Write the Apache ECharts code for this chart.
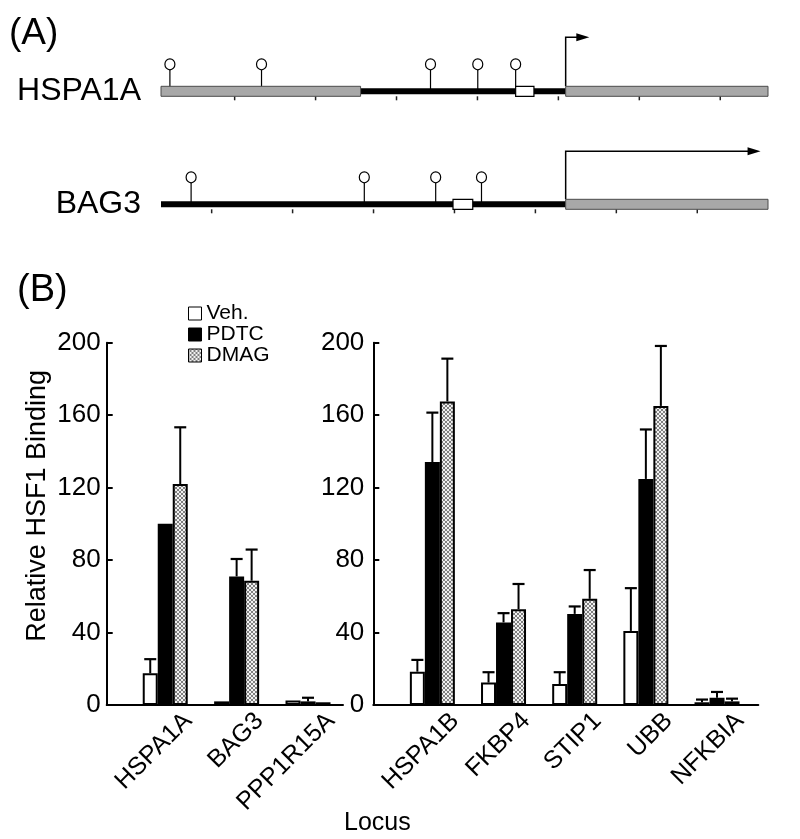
<!DOCTYPE html>
<html>
<head>
<meta charset="utf-8">
<script src="https://cdn.jsdelivr.net/npm/echarts@6/dist/echarts.min.js"></script>
<style>
html,body{margin:0;padding:0;background:#fff;}
#chart{width:800px;height:839px;}
</style>
</head>
<body>
<div id="chart"></div>
<script>
// ---------- Panel A data (positions in bp relative to TSS) ----------
const genes = ['HSPA1A', 'BAG3'];
const hspa1aGray = [[-2500, -1267], [0, 1250]];
const hspa1aLine = [[-1267, 0]];
const hspa1aSites = [-2445, -1879, -835, -543, -309];
const hspa1aBox = [-309, -196];
const hspa1aTicks = [-2045, -1545, -1045, -545, -45, 455, 955];
const hspa1aArrowEnd = 146;

const bag3Gray = [[0, 1250]];
const bag3Line = [[-2500, 0]];
const bag3Sites = [-2314, -1244, -803, -520];
const bag3Box = [-696, -574];
const bag3Ticks = [-2187, -1687, -1187, -687, -187, 313, 813];
const bag3ArrowEnd = 1204;

// ---------- Panel B data ----------
const seriesNames = ['Veh.', 'PDTC', 'DMAG'];
const leftLoci = ['HSPA1A', 'BAG3', 'PPP1R15A'];
const leftVeh = [17.5, 2, 2.5];
const leftPdtc = [100, 71, 2];
const leftDmag = [122, 68.6, 1.5];
const leftVehErr = [7.8, 0, 0];
const leftPdtcErr = [0, 9.6, 2];
const leftDmagErr = [31.3, 17.2, 0];

const rightLoci = ['HSPA1B', 'FKBP4', 'STIP1', 'UBB', 'NFKBIA'];
const rightVeh = [18.4, 12.4, 11.6, 40.9, 1.5];
const rightPdtc = [134.1, 45.6, 50.3, 124.8, 4];
const rightDmag = [167.6, 52.9, 58.6, 165.1, 2];
const rightVehErr = [6.5, 5.7, 6.5, 23.6, 1.5];
const rightPdtcErr = [27.3, 5.1, 4.1, 27.3, 3.2];
const rightDmagErr = [23.6, 13.9, 15.9, 33.1, 1.5];

const yTicks = [0, 40, 80, 120, 160, 200];

// ---------- build ----------
const FONT = 'Liberation Sans, Arial, Helvetica, sans-serif';
const BAR_W = 15;

function makePattern() {
  const c = document.createElement('canvas');
  c.width = 4; c.height = 4;
  const ctx = c.getContext('2d');
  ctx.fillStyle = '#f0f0f0';
  ctx.fillRect(0, 0, 4, 4);
  ctx.fillStyle = '#808080';
  for (let i = 0; i < 4; i++) { ctx.fillRect(i, i, 1, 1); ctx.fillRect(3 - i, i, 1, 1); }
  return c;
}
const dmagFill = { image: makePattern(), repeat: 'repeat' };

const styles = [
  { color: '#ffffff', borderColor: '#000', borderWidth: 2 },
  { color: '#000000', borderColor: '#000', borderWidth: 2 },
  { color: dmagFill, borderColor: '#000', borderWidth: 2 }
];

const geneData = [
  { name: 'HSPA1A', gray: hspa1aGray, line: hspa1aLine, sites: hspa1aSites, box: hspa1aBox, ticks: hspa1aTicks, arrow: hspa1aArrowEnd, arrowH: 54 },
  { name: 'BAG3', gray: bag3Gray, line: bag3Line, sites: bag3Sites, box: bag3Box, ticks: bag3Ticks, arrow: bag3ArrowEnd, arrowH: 53 }
];

function segData(key) {
  const out = [];
  geneData.forEach(g => g[key].forEach(s => out.push([g.name, s[0], s[1]])));
  return out;
}
const grayData = segData('gray');
const lineData = segData('line');
const boxData = geneData.map(g => [g.name, g.box[0], g.box[1]]);
const siteData = [];
geneData.forEach(g => g.sites.forEach(s => siteData.push([g.name, s, s])));
const tickData = [];
geneData.forEach(g => g.ticks.forEach(t => tickData.push([g.name, t, t])));
const arrowData = geneData.map(g => [g.name, 0, g.arrow, g.arrowH]);

function diagSeries(data, render, z) {
  return {
    type: 'custom', xAxisIndex: 0, yAxisIndex: 0, data: data,
    encode: { x: [1, 2], y: 0 }, renderItem: render, silent: true, z: z || 2
  };
}

const renderRect = (h, fill, stroke, lw) => (params, api) => {
  const a = api.coord([api.value(1), api.value(0)]);
  const b = api.coord([api.value(2), api.value(0)]);
  return {
    type: 'rect',
    shape: { x: a[0], y: a[1] - h / 2, width: b[0] - a[0], height: h },
    style: { fill: fill, stroke: stroke, lineWidth: lw }
  };
};

const renderSite = (params, api) => {
  const p = api.coord([api.value(1), api.value(0)]);
  const cy = p[1] - 27;
  return {
    type: 'group',
    children: [
      { type: 'line', shape: { x1: p[0], y1: cy + 5, x2: p[0], y2: p[1] - 2 }, style: { stroke: '#000', lineWidth: 1.2 } },
      { type: 'ellipse', shape: { cx: p[0], cy: cy, rx: 5, ry: 5.5 }, style: { fill: '#fff', stroke: '#000', lineWidth: 1.2 } }
    ]
  };
};

const renderTick = (params, api) => {
  const p = api.coord([api.value(1), api.value(0)]);
  return { type: 'line', shape: { x1: p[0], y1: p[1] + 5, x2: p[0], y2: p[1] + 9 }, style: { stroke: '#222', lineWidth: 1.5 } };
};

const renderArrow = (params, api) => {
  const a = api.coord([api.value(1), api.value(0)]);
  const b = api.coord([api.value(2), api.value(0)]);
  const h = api.value(3);
  const yTop = a[1] - h;
  return {
    type: 'group',
    children: [
      { type: 'polyline', shape: { points: [[a[0], a[1] - 5], [a[0], yTop], [b[0] - 12, yTop]] }, style: { stroke: '#000', lineWidth: 1.5, fill: null } },
      { type: 'polygon', shape: { points: [[b[0] - 13, yTop - 4], [b[0], yTop], [b[0] - 13, yTop + 4]] }, style: { fill: '#000' } }
    ]
  };
};

function barData(vals) { return vals.map((v, i) => [i + 1, v]); }
function errData(vals, errs, k) { return vals.map((v, i) => [i + 1, v, errs[i], k]); }

const renderErr = (params, api) => {
  const x = api.value(0), v = api.value(1), e = api.value(2), k = api.value(3);
  if (!(e > 0)) return null;
  const p0 = api.coord([x, v]);
  const p1 = api.coord([x, v + e]);
  const cx = p0[0] + (k - 1) * BAR_W;
  return {
    type: 'group',
    children: [
      { type: 'line', shape: { x1: cx, y1: p0[1], x2: cx, y2: p1[1] }, style: { stroke: '#000', lineWidth: 2 } },
      { type: 'line', shape: { x1: cx - 6, y1: p1[1], x2: cx + 6, y2: p1[1] }, style: { stroke: '#000', lineWidth: 2.2 } }
    ]
  };
};

function barSeries(gi, name, vals, k) {
  return {
    type: 'bar', name: name, xAxisIndex: gi, yAxisIndex: gi,
    data: barData(vals), barWidth: BAR_W, barGap: '0%',
    itemStyle: styles[k], silent: true, z: 2
  };
}
function errSeries(gi, vals, errs, k) {
  return {
    type: 'custom', xAxisIndex: gi, yAxisIndex: gi, data: errData(vals, errs, k),
    renderItem: renderErr, silent: true, z: 4
  };
}

const commonY = (margin) => ({
  type: 'value', min: yTicks[0], max: yTicks[yTicks.length - 1], interval: 40,
  axisLine: { show: true, onZero: false, lineStyle: { color: '#000', width: 2 } },
  axisTick: { show: true, inside: true, length: 6, lineStyle: { color: '#000', width: 2 } },
  axisLabel: { color: '#000', fontSize: 26, fontFamily: FONT, margin: margin },
  splitLine: { show: false }
});

const commonX = (gi, min, max, names) => ({
  type: 'value', gridIndex: gi, min: min, max: max,
  axisLine: { show: true, onZero: false, lineStyle: { color: '#000', width: 2 } },
  axisTick: { show: false },
  splitLine: { show: false },
  axisLabel: {
    show: true, rotate: 45, color: '#000', fontSize: 25, fontFamily: FONT, margin: 12,
    customValues: names.map((n, i) => i + 1.32),
    formatter: (v) => names[Math.round(v) - 1] || ''
  }
});

const option = {
  animation: false,
  backgroundColor: '#fff',
  textStyle: { fontFamily: FONT },
  title: [
    { text: '(A)', left: 4, top: 10, textStyle: { fontSize: 37, fontWeight: 'normal', color: '#000', fontFamily: FONT } },
    { text: '(B)', left: 12, top: 267, textStyle: { fontSize: 38, fontWeight: 'normal', color: '#000', fontFamily: FONT } },
    { text: 'Locus', left: 339, top: 806, textStyle: { fontSize: 25, fontWeight: 'normal', color: '#000', fontFamily: FONT } }
  ],
  legend: {
    data: seriesNames, orient: 'vertical', left: 183, top: 298,
    itemWidth: 13, itemHeight: 13, itemGap: 0, icon: 'rect',
    itemStyle: { borderWidth: 1, borderColor: '#000' },
    textStyle: { fontSize: 21, color: '#000', fontFamily: FONT, lineHeight: 19 },
    selectedMode: false
  },
  grid: [
    { left: 161, top: 34.8, width: 607, height: 226 },
    { left: 106.7, top: 342.7, width: 236.3, height: 362.3 },
    { left: 373.3, top: 342.7, width: 385, height: 362.3 }
  ],
  xAxis: [
    { type: 'value', gridIndex: 0, min: -2500, max: 1250, show: false },
    commonX(1, 0.18, 3.49, leftLoci),
    commonX(2, 0.17, 5.58, rightLoci)
  ],
  yAxis: [
    { type: 'category', gridIndex: 0, data: genes, inverse: true,
      axisLine: { show: false }, axisTick: { show: false }, splitLine: { show: false },
      axisLabel: { color: '#000', fontSize: 32, fontFamily: FONT, margin: 20 } },
    Object.assign(commonY(6), { gridIndex: 1, name: 'Relative HSF1 Binding', nameLocation: 'middle', nameGap: 56,
      nameTextStyle: { fontSize: 27, color: '#000', fontFamily: FONT, padding: [0, 0, 0, 36] } }),
    Object.assign(commonY(9), { gridIndex: 2 })
  ],
  series: [
    diagSeries(siteData, renderSite, 2),
    diagSeries(lineData, renderRect(6, '#000', null, 0), 3),
    diagSeries(grayData, renderRect(10, '#a8a8a8', '#4a4a4a', 1), 4),
    diagSeries(boxData, renderRect(10, '#fff', '#000', 1.2), 5),
    diagSeries(tickData, renderTick, 3),
    diagSeries(arrowData, renderArrow, 3),

    barSeries(1, seriesNames[0], leftVeh, 0),
    barSeries(1, seriesNames[1], leftPdtc, 1),
    barSeries(1, seriesNames[2], leftDmag, 2),
    barSeries(2, seriesNames[0], rightVeh, 0),
    barSeries(2, seriesNames[1], rightPdtc, 1),
    barSeries(2, seriesNames[2], rightDmag, 2),

    errSeries(1, leftVeh, leftVehErr, 0),
    errSeries(1, leftPdtc, leftPdtcErr, 1),
    errSeries(1, leftDmag, leftDmagErr, 2),
    errSeries(2, rightVeh, rightVehErr, 0),
    errSeries(2, rightPdtc, rightPdtcErr, 1),
    errSeries(2, rightDmag, rightDmagErr, 2)
  ]
};

const chart = echarts.init(document.getElementById('chart'), null, { renderer: 'canvas' });
chart.setOption(option);
</script>
</body>
</html>
